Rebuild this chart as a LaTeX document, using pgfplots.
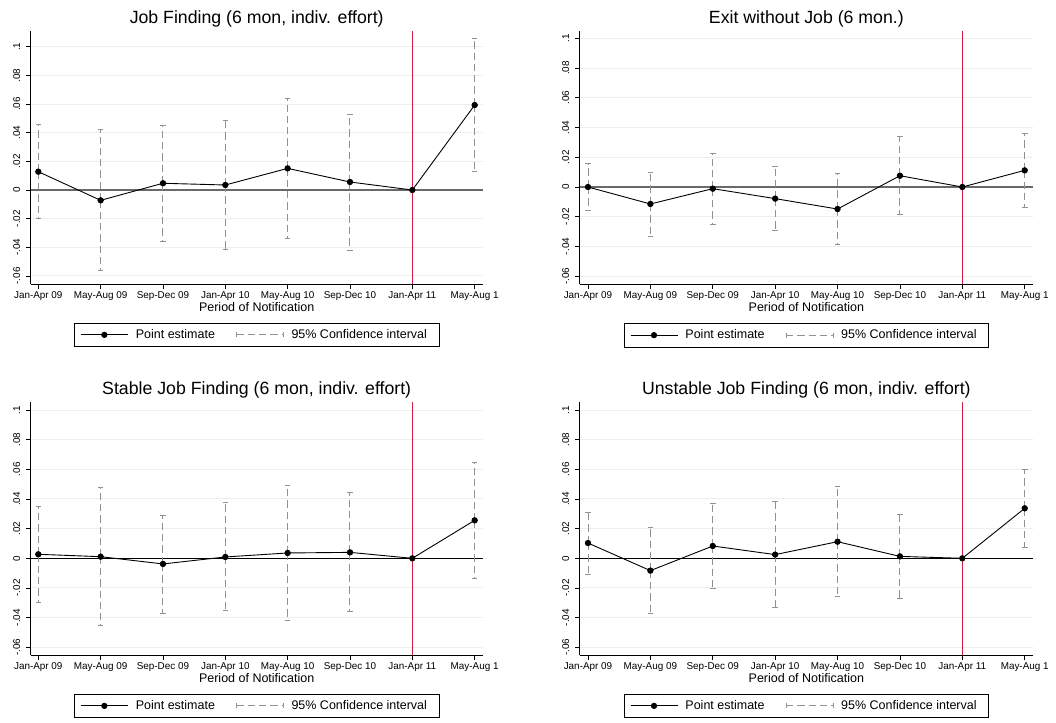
\documentclass[border=0pt]{standalone}
\usepackage{fontspec}
\setmainfont{Liberation Sans}
\usepackage{pgfplots}
\pgfplotsset{compat=1.18}
\usepackage{pgfplotstable}

\definecolor{gridcol}{RGB}{232,240,242}
\definecolor{refred}{RGB}{210,30,70}
\definecolor{cigray}{RGB}{145,145,145}
\definecolor{zerogray}{RGB}{105,105,105}

% columns: period index, point estimate, lower and upper CI bound
\pgfplotstableread{
x pt lo hi
0 0.0128 -0.0202 0.0458
1 -0.0072 -0.0563 0.0423
2 0.0047 -0.0360 0.0449
3 0.0035 -0.0414 0.0484
4 0.0151 -0.0340 0.0640
5 0.0056 -0.0419 0.0530
6 0 0 0
7 0.0593 0.0130 0.1056
}\tabA
\pgfplotstableread{
x pt lo hi
0 0 -0.0159 0.0157
1 -0.0114 -0.0332 0.0099
2 -0.0011 -0.0249 0.0224
3 -0.0078 -0.0289 0.0139
4 -0.0148 -0.0388 0.0092
5 0.0076 -0.0188 0.0343
6 0 0 0
7 0.0112 -0.0135 0.0359
}\tabB
\pgfplotstableread{
x pt lo hi
0 0.0027 -0.0297 0.0348
1 0.0011 -0.0456 0.0479
2 -0.0038 -0.0371 0.0292
3 0.0009 -0.0355 0.0378
4 0.0036 -0.0416 0.0490
5 0.0040 -0.0357 0.0443
6 0 0 0
7 0.0256 -0.0133 0.0645
}\tabC
\pgfplotstableread{
x pt lo hi
0 0.0103 -0.0108 0.0312
1 -0.0083 -0.0371 0.0207
2 0.0083 -0.0204 0.0371
3 0.0025 -0.0335 0.0382
4 0.0112 -0.0256 0.0483
5 0.0013 -0.0270 0.0294
6 0 0 0
7 0.0337 0.0076 0.0600
}\tabD

\pgfplotsset{
  panel/.style={
    scale only axis, anchor=south west, clip=false,
    axis x line*=bottom, axis y line*=left,
    x axis line style={-}, y axis line style={-},
    axis line style={black, line width=0.8pt},
    xtick={0,1,2,3,4,5,6,7},
    xticklabels={Jan-Apr 09,May-Aug 09,Sep-Dec 09,Jan-Apr 10,May-Aug 10,Sep-Dec 10,Jan-Apr 11,May-Aug 1},
    ytick={-0.06,-0.04,-0.02,0,0.02,0.04,0.06,0.08,0.1},
    yticklabels={-.06,-.04,-.02,0,.02,.04,.06,.08,.1},
    tick align=outside, major tick length=4.7pt,
    tick style={black, line width=0.8pt},
    ymajorgrids, major grid style={gridcol, line width=1pt},
    ticklabel style={font=\fontsize{9.9}{11}\selectfont},
    xticklabel style={anchor=base, yshift=-10pt},
    yticklabel style={xshift=-6pt, rotate=90, anchor=base},
    xlabel={Period of Notification},
    xlabel style={font=\fontsize{12.5}{14}\selectfont, at={(0.5,0)}, anchor=base, yshift=-27.7pt},
    title style={font=\fontsize{17.7}{20}\selectfont, at={(0.5,1)}, anchor=base, yshift=1.5pt},
    legend columns=2,
    legend style={at={(0.5,0)}, anchor=north, yshift=-38.7pt,
      draw=black, line width=0.8pt, font=\fontsize{12.5}{14}\selectfont,
      inner xsep=6pt, inner ysep=4.5pt,
      /tikz/every odd column/.append style={column sep=5.5pt},
      /tikz/every even column/.append style={column sep=19pt}},
    legend cell align=left,
  },
  ci/.style={only marks, mark=none, forget plot, skip coords between index={6}{7},
    error bars/.cd, y dir=both, y explicit, error mark=none,
    error bar style={cigray, line width=1pt, dash pattern=on 7.3pt off 4pt}},
  cap/.style={only marks, mark=-, mark size=2.8pt, cigray, line width=1pt,
    forget plot, skip coords between index={6}{7}},
  est/.style={black, line width=0.9pt, mark=*, mark size=2.7pt, forget plot},
}

\newcommand{\panelplots}[2]{%
  \draw[#2] ({rel axis cs:0,0}|-{axis cs:0,0}) -- ({rel axis cs:1,0}|-{axis cs:0,0});
  \addplot[ci] table[x=x, y=pt, y error plus expr=\thisrow{hi}-\thisrow{pt}, y error minus expr=\thisrow{pt}-\thisrow{lo}]{#1};
  \addplot[cap] table[x=x, y=lo]{#1};
  \addplot[cap] table[x=x, y=hi]{#1};
  \draw[refred, line width=1.1pt] ({axis cs:6,0}|-{rel axis cs:0,0}) -- ({axis cs:6,0}|-{rel axis cs:0,1});
  \addplot[est] table[x=x, y=pt]{#1};
  \addlegendimage{legend image code/.code={\draw[black, line width=0.9pt] (0pt,0pt) -- (47pt,0pt); \fill[black] (23.5pt,0pt) circle (2.7pt);}}
  \addlegendentry{Point estimate}
  \addlegendimage{legend image code/.code={\draw[cigray, line width=1pt, dash pattern=on 7.3pt off 4pt] (0pt,0pt) -- (47pt,0pt); \draw[cigray, line width=1pt] (0pt,-2.5pt) -- (0pt,2.5pt) (47pt,-2.5pt) -- (47pt,2.5pt);}}
  \addlegendentry{95\% Confidence interval\hspace*{4pt}}
}

\begin{document}
\begin{tikzpicture}
\useasboundingbox (0pt,0pt) rectangle (1056pt,722pt);

\begin{axis}[panel, at={(30.7pt,438pt)}, width=452pt, height=253pt,
  xmin=-0.122, xmax=7.129, ymin=-0.0656, ymax=0.111,
  title={Job Finding (6 mon, indiv. effort)}]
\panelplots{\tabA}{zerogray, line width=1.4pt}
\end{axis}

\begin{axis}[panel, at={(579.7pt,437.7pt)}, width=453.3pt, height=253.3pt,
  xmin=-0.133, xmax=7.133, ymin=-0.0654, ymax=0.1049,
  title={Exit without Job (6 mon.)}]
\panelplots{\tabB}{zerogray, line width=1.4pt}
\end{axis}

\begin{axis}[panel, at={(30.7pt,67pt)}, width=452pt, height=252.7pt,
  xmin=-0.122, xmax=7.129, ymin=-0.0652, ymax=0.1052,
  title={Stable Job Finding (6 mon, indiv. effort)}]
\panelplots{\tabC}{black, line width=0.9pt}
\end{axis}

\begin{axis}[panel, at={(579.7pt,67pt)}, width=453.3pt, height=252.7pt,
  xmin=-0.133, xmax=7.133, ymin=-0.0652, ymax=0.1052,
  title={Unstable Job Finding (6 mon, indiv. effort)}]
\panelplots{\tabD}{black, line width=0.9pt}
\end{axis}
\end{tikzpicture}
\end{document}
